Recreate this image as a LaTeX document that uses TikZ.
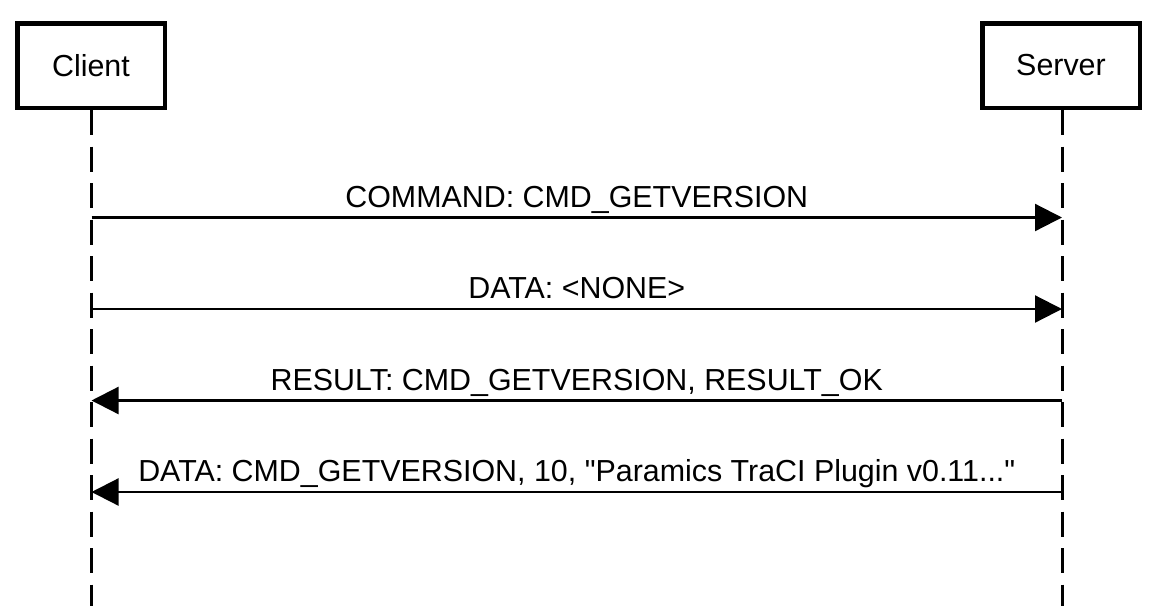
\documentclass[tikz,border=0pt]{standalone}
\usepackage{fontspec}
\newfontfamily\labelfont{Liberation Sans}
\usetikzlibrary{arrows.meta}
\begin{document}
\begin{tikzpicture}[x=1pt,y=-1pt,
  actor/.style={draw,line width=4.5pt,minimum height=84.5pt,inner sep=0pt,
    font=\labelfont\fontsize{30.4}{36}\selectfont},
  lifeline/.style={line width=3pt,dash pattern=on 25pt off 11.5pt},
  msg/.style={line width=2.2pt,-{Triangle[length=27pt,width=27pt]}},
  msglabel/.style={font=\labelfont\fontsize{30.4}{36}\selectfont,anchor=base,
    inner sep=0pt,yshift=10.5pt}]
\useasboundingbox (0,0) rectangle (1159,606);

% participants
\node[actor,minimum width=147.5pt] (client) at (91,65.5) {Client};
\node[actor,minimum width=157.5pt] (server) at (1061,65.5) {Server};

% lifeline ends
\coordinate (cend) at (91.5,606);
\coordinate (send) at (1062,606);
\draw[lifeline] ([xshift=0.5pt]client.south) -- (cend);
\draw[lifeline] ([xshift=1pt]server.south) -- (send);

% message anchor points on the lifelines
\coordinate (c1) at (91.5,217.5); \coordinate (s1) at (1062,217.5);
\coordinate (c2) at (91.5,309);   \coordinate (s2) at (1062,309);
\coordinate (c3) at (91.5,400.5); \coordinate (s3) at (1062,400.5);
\coordinate (c4) at (91.5,492);   \coordinate (s4) at (1062,492);

% messages
\draw[msg] (c1) -- node[msglabel] {COMMAND: CMD\_GETVERSION} (s1);
\draw[msg] (c2) -- node[msglabel] {DATA: <NONE>} (s2);
\draw[msg] (s3) -- node[msglabel] {RESULT: CMD\_GETVERSION, RESULT\_OK} (c3);
\draw[msg] (s4) -- node[msglabel] {DATA: CMD\_GETVERSION, 10, "Paramics TraCI Plugin v0.11..."} (c4);
\end{tikzpicture}
\end{document}
